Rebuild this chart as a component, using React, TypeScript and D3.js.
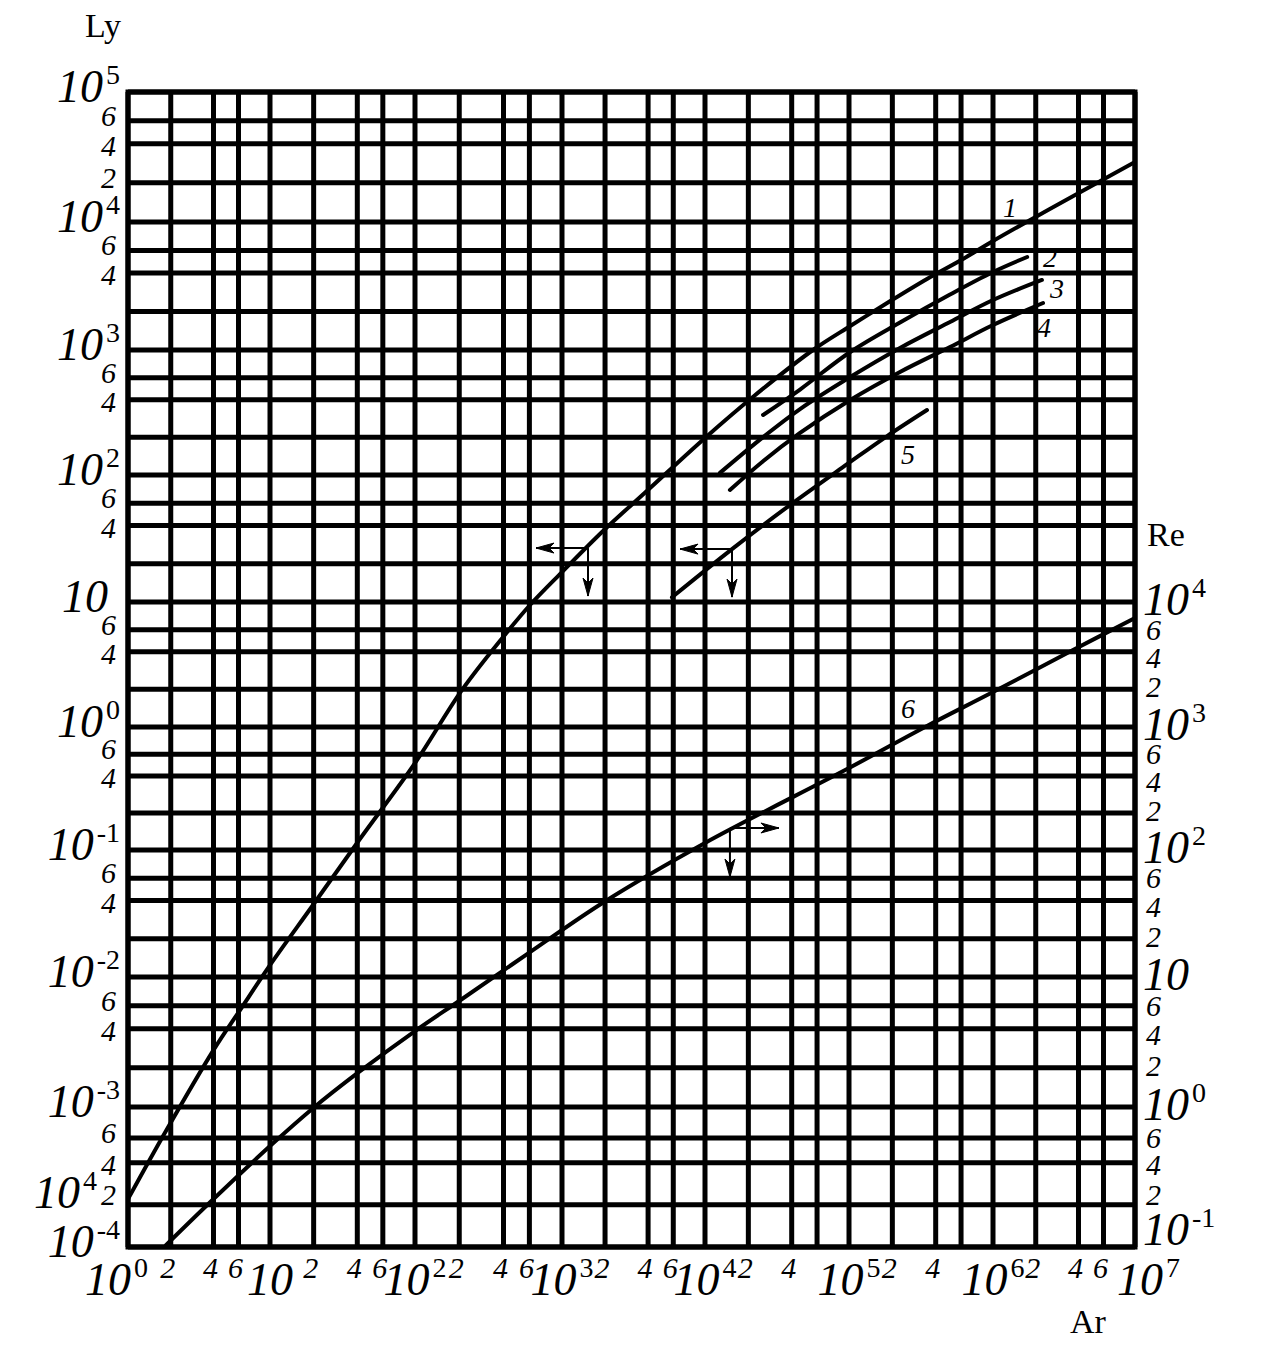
import React from 'react';
import * as d3 from 'd3';

const WIDTH = 1274;
const HEIGHT = 1363;
const FONT = '"Liberation Serif", "Times New Roman", Times, serif';

// ---- axis decades (data) ----
const arDecades = [1, 1e1, 1e2, 1e3, 1e4, 1e5, 1e6, 1e7];
const lyDecades = [1e-4, 1e-3, 1e-2, 1e-1, 1, 1e1, 1e2, 1e3, 1e4, 1e5];
const reDecades = [1e-1, 1, 1e1, 1e2, 1e3, 1e4, 1e5, 1e6, 1e7, 1e8];
const gridMultipliers = [1, 2, 4, 6];

// ---- tick labels ----
const arDecadeLabels: [number, string, string][] = [
  [1, '10', '0'], [1e1, '10', ''], [1e2, '10', '2'], [1e3, '10', '3'],
  [1e4, '10', '4'], [1e5, '10', '5'], [1e6, '10', '6'], [1e7, '10', '7'],
];
const arMinorLabels: [number, string][] = [
  [2, '2'], [4, '4'], [6, '6'], [20, '2'], [40, '4'], [60, '6'],
  [200, '2'], [400, '4'], [600, '6'], [2000, '2'], [4000, '4'], [6000, '6'],
  [2e4, '2'], [4e4, '4'], [2e5, '2'], [4e5, '4'], [2e6, '2'], [4e6, '4'], [6e6, '6'],
];
const lyDecadeLabels: [number, string, string][] = [
  [1e-4, '10', '-4'], [1e-3, '10', '-3'], [1e-2, '10', '-2'], [1e-1, '10', '-1'],
  [1, '10', '0'], [1e1, '10', ''], [1e2, '10', '2'], [1e3, '10', '3'],
  [1e4, '10', '4'], [1e5, '10', '5'],
];
const lyMinorLabels: [number, string][] = [
  [2e-4, '2'], [4e-4, '4'], [6e-4, '6'], [4e-3, '4'], [6e-3, '6'],
  [4e-2, '4'], [6e-2, '6'], [0.4, '4'], [0.6, '6'], [4, '4'], [6, '6'],
  [40, '4'], [60, '6'], [400, '4'], [600, '6'], [4000, '4'], [6000, '6'],
  [2e4, '2'], [4e4, '4'], [6e4, '6'],
];
const lyStrayLabel: [number, string, string] = [2e-4, '10', '4'];
const reDecadeLabels: [number, string, string][] = [
  [1e-1, '10', '-1'], [1, '10', '0'], [1e1, '10', ''], [1e2, '10', '2'],
  [1e3, '10', '3'], [1e4, '10', '4'],
];
const reMinorLabels: [number, string][] = [
  [0.2, '2'], [0.4, '4'], [0.6, '6'], [2, '2'], [4, '4'], [6, '6'],
  [20, '2'], [40, '4'], [60, '6'], [200, '2'], [400, '4'], [600, '6'],
  [2000, '2'], [4000, '4'], [6000, '6'],
];

// ---- curves: [Ar, Ly] ----
const curve1: [number, number][] = [
  [1, 2.2e-4], [1.85, 6.74e-4], [4, 2.74e-3], [6.15, 5.57e-3], [10, 1.24e-2],
  [19.8, 3.69e-2], [41.1, 0.12], [100, 0.509], [209, 1.98], [403, 5.35],
  [606, 9.46], [1000, 17.2], [1970, 36.9], [3990, 76.2], [1e4, 198],
  [2.15e4, 421], [5.62e4, 1000], [1.02e5, 1540], [1.84e5, 2328],
  [3.48e5, 3589], [6.19e5, 5140], [1e6, 7107], [1.98e6, 1.09e4],
  [3.9e6, 1.64e4], [1e7, 2.9e4],
];
const curve2: [number, number][] = [
  [2.53e4, 302], [4.57e4, 483], [1.02e5, 964], [2.26e5, 1640],
  [5.03e5, 2714], [1e6, 4068], [1.74e6, 5330],
];
const curve3: [number, number][] = [
  [1.27e4, 104], [2.53e4, 201], [4.57e4, 337], [1.02e5, 608], [2.26e5, 1037],
  [5.03e5, 1655], [1e6, 2456], [2.21e6, 3524],
];
const curve4: [number, number][] = [
  [1.49e4, 76.2], [2.53e4, 129], [4.57e4, 217], [1.02e5, 398], [2.26e5, 667],
  [5.03e5, 1055], [1e6, 1567], [2.25e6, 2328],
];
const curve5: [number, number][] = [
  [5875, 10.9], [1.54e4, 26.1], [3.89e4, 58.0], [9.7e4, 122],
  [1.84e5, 205], [3.48e5, 331],
];
// ---- curve 6: [Ar, Re] ----
const curve6: [number, number][] = [
  [1.85, 0.103], [4, 0.22], [10, 0.526], [19.8, 0.98], [41.1, 1.86],
  [100, 3.84], [209, 6.77], [606, 15.7], [1970, 39.0], [1e4, 114],
  [1e5, 464], [3.48e5, 1020], [1e6, 1905], [3.66e6, 4130], [1e7, 7447],
];

// curve number labels [Ar, Ly-or-Re, text, which axis]
const curveLabels: [number, number, string, 'ly' | 're'][] = [
  [1.32e6, 1.09e4, '1', 'ly'], [2.52e6, 4.45e3, '2', 'ly'], [2.82e6, 2.55e3, '3', 'ly'],
  [2.29e6, 1.26e3, '4', 'ly'], [2.57e5, 122, '5', 'ly'], [2.57e5, 1180, '6', 're'],
];
// arrow annotations: corner point on a curve
const arrowsLy: [number, number][] = [[1520, 26.6], [1.54e4, 26.1]];
const arrowsRe: [number, number][] = [[1.49e4, 151]];

// ---- layout ----
const xRange = [128, 270, 415, 562, 705, 849, 993, 1135];
const yRange = [1247, 1107, 977, 850, 727, 602, 475, 350, 222, 92];

const x = d3.scaleLog().domain(arDecades).range(xRange);
const yLy = d3.scaleLog().domain(lyDecades).range(yRange);
const yRe = d3.scaleLog().domain(reDecades).range(yRange);

const X0 = xRange[0], X1 = xRange[xRange.length - 1];
const Y0 = yRange[yRange.length - 1], Y1 = yRange[0];

function gridValues(decades: number[]): number[] {
  const out: number[] = [];
  for (let i = 0; i < decades.length - 1; i++) {
    for (const m of gridMultipliers) out.push(decades[i] * m);
  }
  out.push(decades[decades.length - 1]);
  return out;
}

const lineLy = d3.line<[number, number]>()
  .x(d => x(d[0]))
  .y(d => yLy(d[1]))
  .curve(d3.curveCatmullRom.alpha(0.5));
const lineRe = d3.line<[number, number]>()
  .x(d => x(d[0]))
  .y(d => yRe(d[1]))
  .curve(d3.curveCatmullRom.alpha(0.5));

// label baseline offsets (px below the grid line) by leading digit
const leftMinorOffset: Record<string, number> = { '2': 5, '4': 12, '6': 5 };
const rightMinorOffset: Record<string, number> = { '2': 8, '4': 16, '6': 10 };

function Pow({ x: px, y: py, base, exp, anchor, big = 46, small = 28 }:
  { x: number; y: number; base: string; exp: string; anchor: string; big?: number; small?: number }) {
  return (
    <text x={px} y={py} textAnchor={anchor} fontFamily={FONT}>
      <tspan fontStyle="italic" fontSize={big}>{base}</tspan>
      {exp ? <tspan fontSize={small} dx={3} dy={-18}>{exp}</tspan> : null}
    </text>
  );
}

function Arrow({ x1, y1, x2, y2 }: { x1: number; y1: number; x2: number; y2: number }) {
  const ang = (Math.atan2(y2 - y1, x2 - x1) * 180) / Math.PI;
  return (
    <g>
      <line x1={x1} y1={y1} x2={x2} y2={y2} stroke="#000" strokeWidth={2} />
      <path d="M0,0 L-18,-5 L-13,0 L-18,5 Z" fill="#000" stroke="#000" strokeWidth={1}
        transform={`translate(${x2},${y2}) rotate(${ang})`} />
    </g>
  );
}

export default function App() {
  const vx = gridValues(arDecades);
  const vy = gridValues(lyDecades);
  const GW = 5;
  const minorSize = 30;
  return (
    <svg width={WIDTH} height={HEIGHT} viewBox={`0 0 ${WIDTH} ${HEIGHT}`}
      style={{ position: 'absolute', left: 0, top: 0, background: '#fff' }}>
      <rect x={0} y={0} width={WIDTH} height={HEIGHT} fill="#fff" />
      <defs>
        <clipPath id="plot">
          <rect x={X0} y={Y0} width={X1 - X0} height={Y1 - Y0} />
        </clipPath>
      </defs>
      {/* grid */}
      <g stroke="#000" strokeWidth={GW}>
        {vx.map((v, i) => (
          <line key={'vx' + i} x1={x(v)} x2={x(v)} y1={Y0} y2={Y1} />
        ))}
        {vy.map((v, i) => (
          <line key={'vy' + i} x1={X0} x2={X1} y1={yLy(v)} y2={yLy(v)} />
        ))}
      </g>
      <rect x={X0} y={Y0} width={X1 - X0} height={Y1 - Y0} fill="none" stroke="#000" strokeWidth={GW} />

      {/* curves */}
      <g fill="none" stroke="#000" strokeWidth={4} strokeLinecap="round" clipPath="url(#plot)">
        <path d={lineLy(curve1) || ''} />
        <path d={lineLy(curve2) || ''} />
        <path d={lineLy(curve3) || ''} />
        <path d={lineLy(curve4) || ''} />
        <path d={lineLy(curve5) || ''} />
        <path d={lineRe(curve6) || ''} />
      </g>

      {/* arrows */}
      {arrowsLy.map((p, i) => {
        const cx = x(p[0]), cy = yLy(p[1]);
        return (
          <g key={'al' + i}>
            <Arrow x1={cx} y1={cy} x2={cx - 52} y2={cy} />
            <Arrow x1={cx} y1={cy} x2={cx} y2={cy + 48} />
          </g>
        );
      })}
      {arrowsRe.map((p, i) => {
        const cx = x(p[0]), cy = yRe(p[1]);
        return (
          <g key={'ar' + i}>
            <Arrow x1={cx} y1={cy} x2={cx + 49} y2={cy} />
            <Arrow x1={cx} y1={cy} x2={cx} y2={cy + 49} />
          </g>
        );
      })}

      {/* curve labels */}
      {curveLabels.map(([a, v, t, ax], i) => (
        <text key={'cl' + i} x={x(a)} y={ax === 'ly' ? yLy(v) : yRe(v)} textAnchor="middle"
          fontFamily={FONT} fontStyle="italic" fontSize={28}>{t}</text>
      ))}

      {/* x axis labels */}
      {arDecadeLabels.map(([v, b, e], i) => {
        const first = i === 0, last = i === arDecadeLabels.length - 1;
        const px = first ? x(v) + 20 : last ? x(v) - 18 : x(v);
        const anchor = first ? 'end' : last ? 'start' : 'middle';
        return <Pow key={'xd' + i} x={px} y={1295} base={b} exp={e} anchor={anchor} />;
      })}
      {arMinorLabels.map(([v, t], i) => (
        <text key={'xm' + i} x={x(v) - 3} y={1278} textAnchor="middle" fontFamily={FONT}
          fontStyle="italic" fontSize={minorSize}>{t}</text>
      ))}

      {/* left axis labels */}
      {lyDecadeLabels.map(([v, b, e], i) => (
        <Pow key={'yd' + i} x={e ? 120 : 108} y={yLy(v) + 10} base={b} exp={e} anchor="end" />
      ))}
      {lyMinorLabels.map(([v, t], i) => (
        <text key={'ym' + i} x={116} y={yLy(v) + (i === 0 ? 0 : leftMinorOffset[t])} textAnchor="end"
          fontFamily={FONT} fontStyle="italic" fontSize={minorSize}>{t}</text>
      ))}
      <Pow x={97} y={yLy(lyStrayLabel[0]) + 3} base={lyStrayLabel[1]} exp={lyStrayLabel[2]} anchor="end" />

      {/* right axis labels */}
      {reDecadeLabels.map(([v, b, e], i) => (
        <Pow key={'rd' + i} x={1143} y={i === 0 ? yRe(v) - 2 : yRe(v) + 13} base={b} exp={e} anchor="start" />
      ))}
      {reMinorLabels.map(([v, t], i) => (
        <text key={'rm' + i} x={1146} y={yRe(v) + (i === 0 ? 0 : i === 1 ? 12 : rightMinorOffset[t])}
          textAnchor="start" fontFamily={FONT} fontStyle="italic" fontSize={minorSize}>{t}</text>
      ))}

      {/* axis titles */}
      <text x={85} y={37} fontFamily={FONT} fontSize={34}>Ly</text>
      <text x={1147} y={546} fontFamily={FONT} fontSize={34}>Re</text>
      <text x={1070} y={1333} fontFamily={FONT} fontSize={34}>Ar</text>
    </svg>
  );
}
